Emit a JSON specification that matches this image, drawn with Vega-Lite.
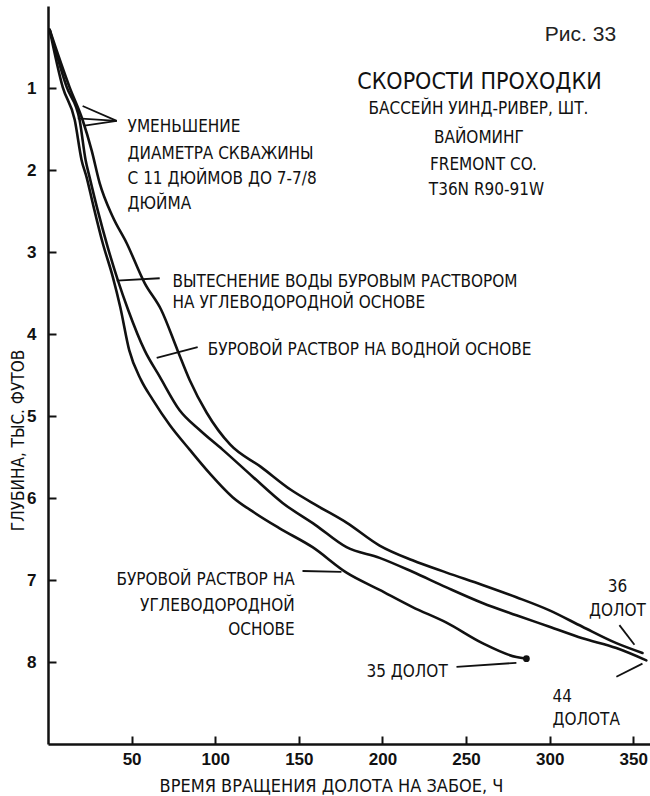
{
  "$schema": "https://vega.github.io/schema/vega-lite/v6.json",
  "width": 602,
  "height": 738,
  "autosize": "none",
  "padding": {"left": 48, "top": 6, "right": 0, "bottom": 52},
  "background": "white",
  "config": {"view": {"stroke": null}},
  "datasets": {
    "curves": [
      {"s": "A", "x": 1.0, "y": 0.29}, {"s": "A", "x": 8.8, "y": 0.99}, {"s": "A", "x": 16.0, "y": 1.39}, {"s": "A", "x": 20.1, "y": 1.88},
      {"s": "A", "x": 23.1, "y": 2.09}, {"s": "A", "x": 26.7, "y": 2.40}, {"s": "A", "x": 32.7, "y": 2.89}, {"s": "A", "x": 38.7, "y": 3.30},
      {"s": "A", "x": 43.2, "y": 3.67}, {"s": "A", "x": 48.6, "y": 4.20}, {"s": "A", "x": 55.6, "y": 4.56}, {"s": "A", "x": 62.6, "y": 4.80},
      {"s": "A", "x": 72.8, "y": 5.11}, {"s": "A", "x": 84.7, "y": 5.41}, {"s": "A", "x": 96.7, "y": 5.70}, {"s": "A", "x": 110.4, "y": 5.99},
      {"s": "A", "x": 123.5, "y": 6.18}, {"s": "A", "x": 138.5, "y": 6.37}, {"s": "A", "x": 158.2, "y": 6.60}, {"s": "A", "x": 178.5, "y": 6.91},
      {"s": "A", "x": 198.3, "y": 7.12}, {"s": "A", "x": 218.0, "y": 7.33}, {"s": "A", "x": 238.3, "y": 7.52}, {"s": "A", "x": 259.8, "y": 7.77},
      {"s": "A", "x": 280.1, "y": 7.94}, {"s": "A", "x": 286.1, "y": 7.96},
      {"s": "B", "x": 1.0, "y": 0.29}, {"s": "B", "x": 11.2, "y": 0.99}, {"s": "B", "x": 18.9, "y": 1.39}, {"s": "B", "x": 22.5, "y": 1.88},
      {"s": "B", "x": 24.9, "y": 2.09}, {"s": "B", "x": 29.7, "y": 2.49}, {"s": "B", "x": 35.7, "y": 2.94}, {"s": "B", "x": 41.7, "y": 3.34},
      {"s": "B", "x": 48.0, "y": 3.71}, {"s": "B", "x": 57.8, "y": 4.20}, {"s": "B", "x": 66.8, "y": 4.52}, {"s": "B", "x": 78.7, "y": 4.93},
      {"s": "B", "x": 90.7, "y": 5.17}, {"s": "B", "x": 104.4, "y": 5.41}, {"s": "B", "x": 122.4, "y": 5.74}, {"s": "B", "x": 140.3, "y": 6.06},
      {"s": "B", "x": 160.0, "y": 6.33}, {"s": "B", "x": 178.5, "y": 6.60}, {"s": "B", "x": 198.3, "y": 6.73}, {"s": "B", "x": 218.0, "y": 6.90},
      {"s": "B", "x": 238.3, "y": 7.09}, {"s": "B", "x": 259.8, "y": 7.28}, {"s": "B", "x": 280.1, "y": 7.43}, {"s": "B", "x": 299.9, "y": 7.57},
      {"s": "B", "x": 319.6, "y": 7.71}, {"s": "B", "x": 339.9, "y": 7.83}, {"s": "B", "x": 357.8, "y": 7.98},
      {"s": "C", "x": 1.0, "y": 0.29}, {"s": "C", "x": 12.9, "y": 0.99}, {"s": "C", "x": 20.7, "y": 1.39}, {"s": "C", "x": 26.1, "y": 1.76},
      {"s": "C", "x": 30.9, "y": 2.16}, {"s": "C", "x": 38.7, "y": 2.57}, {"s": "C", "x": 47.0, "y": 2.89}, {"s": "C", "x": 57.8, "y": 3.38},
      {"s": "C", "x": 67.8, "y": 3.71}, {"s": "C", "x": 77.5, "y": 4.20}, {"s": "C", "x": 84.7, "y": 4.56}, {"s": "C", "x": 94.9, "y": 4.96},
      {"s": "C", "x": 109.0, "y": 5.35}, {"s": "C", "x": 127.3, "y": 5.62}, {"s": "C", "x": 145.2, "y": 5.90}, {"s": "C", "x": 162.4, "y": 6.11},
      {"s": "C", "x": 178.5, "y": 6.30}, {"s": "C", "x": 198.3, "y": 6.58}, {"s": "C", "x": 218.0, "y": 6.76}, {"s": "C", "x": 238.3, "y": 6.91},
      {"s": "C", "x": 259.8, "y": 7.06}, {"s": "C", "x": 280.1, "y": 7.21}, {"s": "C", "x": 299.9, "y": 7.37}, {"s": "C", "x": 319.6, "y": 7.57},
      {"s": "C", "x": 339.9, "y": 7.77}, {"s": "C", "x": 355.5, "y": 7.89}
    ],
    "ends": [{"x": 286.1, "y": 7.96}],
    "arrows": [
      {"x": 41.1, "y": 1.40, "x2": 20.7, "y2": 1.22},
      {"x": 41.1, "y": 1.40, "x2": 17.8, "y2": 1.37},
      {"x": 41.1, "y": 1.40, "x2": 21.9, "y2": 1.46},
      {"x": 66.8, "y": 3.32, "x2": 41.1, "y2": 3.35},
      {"x": 89.5, "y": 4.16, "x2": 65.0, "y2": 4.29},
      {"x": 152.2, "y": 6.89, "x2": 175.5, "y2": 6.90},
      {"x": 244.3, "y": 8.06, "x2": 280.1, "y2": 8.01},
      {"x": 341.7, "y": 7.55, "x2": 350.7, "y2": 7.79},
      {"x": 339.9, "y": 8.18, "x2": 355.5, "y2": 8.02}
    ],
    "textLeft": [
      {"t": "УМЕНЬШЕНИЕ", "x": 47.6, "y": 1.470},
      {"t": "ДИАМЕТРА СКВАЖИНЫ", "x": 47.6, "y": 1.799},
      {"t": "С 11 ДЮЙМОВ ДО 7-7/8", "x": 47.6, "y": 2.110},
      {"t": "ДЮЙМА", "x": 47.6, "y": 2.409},
      {"t": "ВЫТЕСНЕНИЕ ВОДЫ БУРОВЫМ РАСТВОРОМ", "x": 74.5, "y": 3.360},
      {"t": "НА УГЛЕВОДОРОДНОЙ ОСНОВЕ", "x": 74.5, "y": 3.622},
      {"t": "БУРОВОЙ РАСТВОР НА ВОДНОЙ ОСНОВЕ", "x": 95.5, "y": 4.201},
      {"t": "35 ДОЛОТ", "x": 190.5, "y": 8.128},
      {"t": "44", "x": 301.7, "y": 8.421},
      {"t": "ДОЛОТА", "x": 301.7, "y": 8.713}
    ],
    "textRight": [
      {"t": "БУРОВОЙ РАСТВОР НА", "x": 147.5, "y": 7.006},
      {"t": "УГЛЕВОДОРОДНОЙ", "x": 147.5, "y": 7.311},
      {"t": "ОСНОВЕ", "x": 147.5, "y": 7.604}
    ],
    "textCenter": [
      {"t": "36", "x": 340.5, "y": 7.085},
      {"t": "ДОЛОТ", "x": 340.5, "y": 7.372},
      {"t": "БАССЕЙН УИНД-РИВЕР, ШТ.", "x": 257.4, "y": 1.262},
      {"t": "ВАЙОМИНГ", "x": 257.7, "y": 1.610},
      {"t": "FREMONT CO.", "x": 260.4, "y": 1.933},
      {"t": "T36N R90-91W", "x": 262.2, "y": 2.238}
    ],
    "title": [{"t": "СКОРОСТИ ПРОХОДКИ", "x": 258.0, "y": 0.921}],
    "fig": [{"t": "Рис. 33", "x": 318.4, "y": 0.348}]
  },
  "encoding": {
    "x": {
      "field": "x", "type": "quantitative",
      "scale": {"domain": [0, 360], "nice": false, "zero": false},
      "axis": {
        "values": [50, 100, 150, 200, 250, 300, 350],
        "title": "ВРЕМЯ ВРАЩЕНИЯ ДОЛОТА НА ЗАБОЕ, Ч",
        "grid": false, "labelOverlap": false, "labelFlush": false,
        "domainColor": "#111", "domainWidth": 2.5,
        "tickColor": "#111", "tickWidth": 2, "tickSize": -8,
        "labelPadding": 15, "labelFont": "Liberation Sans", "labelFontWeight": "bold", "labelFontSize": 17, "labelColor": "#111",
        "titleFont": "DejaVu Sans Condensed, Roboto, sans-serif", "titleFontSize": 18, "titleFontWeight": "normal", "titleColor": "#111",
        "titleX": 283, "titleY": 47, "titleBaseline": "alphabetic", "titleAlign": "center"
      }
    },
    "y": {
      "field": "y", "type": "quantitative",
      "scale": {"domain": [0, 9], "reverse": true, "nice": false, "zero": false},
      "axis": {
        "values": [1, 2, 3, 4, 5, 6, 7, 8],
        "title": "ГЛУБИНА, ТЫС. ФУТОВ",
        "grid": false, "labelOverlap": false, "labelFlush": false,
        "domainColor": "#111", "domainWidth": 2.5,
        "tickColor": "#111", "tickWidth": 2, "tickSize": -8,
        "labelPadding": 20, "labelFont": "Liberation Sans", "labelFontWeight": "bold", "labelFontSize": 17, "labelColor": "#111",
        "titleFont": "DejaVu Sans Condensed, Roboto, sans-serif", "titleFontSize": 17, "titleFontWeight": "normal", "titleColor": "#111",
        "titleX": -25, "titleY": 434, "titleBaseline": "alphabetic", "titleAlign": "center", "titleAngle": -90
      }
    }
  },
  "layer": [
    {
      "data": {"name": "curves"},
      "mark": {"type": "line", "color": "#111", "strokeWidth": 2.6, "strokeJoin": "round", "strokeCap": "round", "interpolate": "monotone"},
      "encoding": {"detail": {"field": "s"}}
    },
    {
      "data": {"name": "ends"},
      "mark": {"type": "point", "filled": true, "color": "#111", "size": 45, "opacity": 1}
    },
    {
      "data": {"name": "arrows"},
      "mark": {"type": "rule", "color": "#111", "strokeWidth": 1.8},
      "encoding": {"x2": {"field": "x2"}, "y2": {"field": "y2"}}
    },
    {
      "data": {"name": "textLeft"},
      "mark": {"type": "text", "align": "left", "baseline": "middle", "font": "DejaVu Sans Condensed, Roboto, sans-serif", "fontSize": 17, "color": "#111"},
      "encoding": {"text": {"field": "t"}}
    },
    {
      "data": {"name": "textRight"},
      "mark": {"type": "text", "align": "right", "baseline": "middle", "font": "DejaVu Sans Condensed, Roboto, sans-serif", "fontSize": 17, "color": "#111"},
      "encoding": {"text": {"field": "t"}}
    },
    {
      "data": {"name": "textCenter"},
      "mark": {"type": "text", "align": "center", "baseline": "middle", "font": "DejaVu Sans Condensed, Roboto, sans-serif", "fontSize": 17, "color": "#111"},
      "encoding": {"text": {"field": "t"}}
    },
    {
      "data": {"name": "title"},
      "mark": {"type": "text", "align": "center", "baseline": "middle", "font": "DejaVu Sans Condensed, Roboto, sans-serif", "fontSize": 23, "color": "#111"},
      "encoding": {"text": {"field": "t"}}
    },
    {
      "data": {"name": "fig"},
      "mark": {"type": "text", "align": "center", "baseline": "middle", "font": "Liberation Sans", "fontSize": 21, "color": "#222"},
      "encoding": {"text": {"field": "t"}}
    }
  ]
}
